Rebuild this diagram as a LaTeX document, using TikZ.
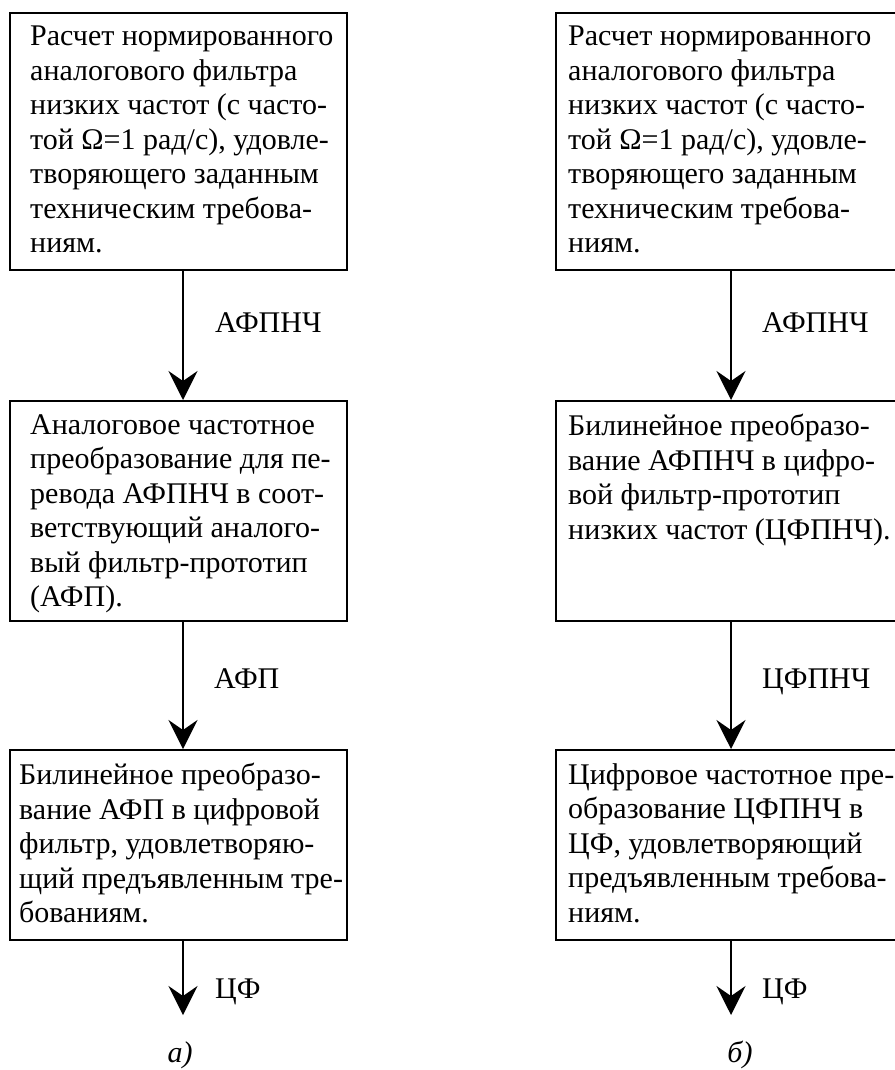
\documentclass[tikz,border=0pt]{standalone}
\usepackage{fontspec}
\setmainfont{Liberation Serif}
\usetikzlibrary{arrows.meta,positioning,calc}

\tikzset{
  blk/.style={draw, line width=1.6pt, rectangle, inner sep=0pt, anchor=north west},
  txt/.style={anchor=north west, inner sep=0pt, align=left, font=\fontsize{30}{34.5}\selectfont, execute at begin node=\strut},
  lbl/.style={anchor=base west, inner sep=0pt, font=\fontsize{30}{36}\selectfont},
  capt/.style={anchor=base, inner sep=0pt, font=\fontsize{30}{36}\selectfont\itshape},
  arr/.style={line width=1.6pt, -{Stealth[length=29pt,width=29pt,inset=10pt]}},
}

\begin{document}
\begin{tikzpicture}[x=1pt,y=-1pt]
\useasboundingbox (0,0) rectangle (894,1070);
% scheme a)
\node[blk,minimum width=337pt,minimum height=257pt] (a1) at (9,12) {};
\node[blk,minimum width=337pt,minimum height=220pt] (a2) at (9,400) {};
\node[blk,minimum width=337pt,minimum height=190pt] (a3) at (9,749) {};
\node[txt] (ta1) at ([shift={(21,14)}]a1.north west) {Расчет нормированного\\аналогового фильтра\\низких частот (с часто-\\той Ω=1 рад/с), удовле-\\творяющего заданным\\техническим требова-\\ниям.};
\node[txt] (ta2) at ([shift={(21,14)}]a2.north west) {Аналоговое частотное\\преобразование для пе-\\ревода АФПНЧ в соот-\\ветствующий аналого-\\вый фильтр-прототип\\(АФП).};
\node[txt] (ta3) at ([shift={(10,14)}]a3.north west) {Билинейное преобразо-\\вание АФП в цифровой\\фильтр, удовлетворяю-\\щий предъявленным тре-\\бованиям.};
\coordinate (xa) at (183,0);
\coordinate (ea) at (183,1015);
\draw[arr] (a1.south -| xa) -- (a2.north -| xa);
\draw[arr] (a2.south -| xa) -- (a3.north -| xa);
\draw[arr] (a3.south -| xa) -- (ea);
\node[lbl] (la1) at (215,332) {АФПНЧ};
\node[lbl] (la2) at (214,688) {АФП};
\node[lbl] (la3) at (215,998) {ЦФ};
\node[capt] (ca) at (180,1062) {а)};
% scheme b)
\node[blk,minimum width=342pt,minimum height=257pt] (b1) at (555,12) {};
\node[blk,minimum width=342pt,minimum height=220pt] (b2) at (555,400) {};
\node[blk,minimum width=342pt,minimum height=190pt] (b3) at (555,749) {};
\node[txt] (tb1) at ([shift={(13,14)}]b1.north west) {Расчет нормированного\\аналогового фильтра\\низких частот (с часто-\\той Ω=1 рад/с), удовле-\\творяющего заданным\\техническим требова-\\ниям.};
\node[txt] (tb2) at ([shift={(13,14)}]b2.north west) {Билинейное преобразо-\\вание АФПНЧ в цифро-\\вой фильтр-прототип\\низких частот (ЦФПНЧ).};
\node[txt] (tb3) at ([shift={(13,14)}]b3.north west) {Цифровое частотное пре-\\образование ЦФПНЧ в\\ЦФ, удовлетворяющий\\предъявленным требова-\\ниям.};
\coordinate (xb) at (731,0);
\coordinate (eb) at (731,1015);
\draw[arr] (b1.south -| xb) -- (b2.north -| xb);
\draw[arr] (b2.south -| xb) -- (b3.north -| xb);
\draw[arr] (b3.south -| xb) -- (eb);
\node[lbl] (lb1) at (762,332) {АФПНЧ};
\node[lbl] (lb2) at (762,688) {ЦФПНЧ};
\node[lbl] (lb3) at (762,998) {ЦФ};
\node[capt] (cb) at (740,1062) {б)};
\end{tikzpicture}
\end{document}
